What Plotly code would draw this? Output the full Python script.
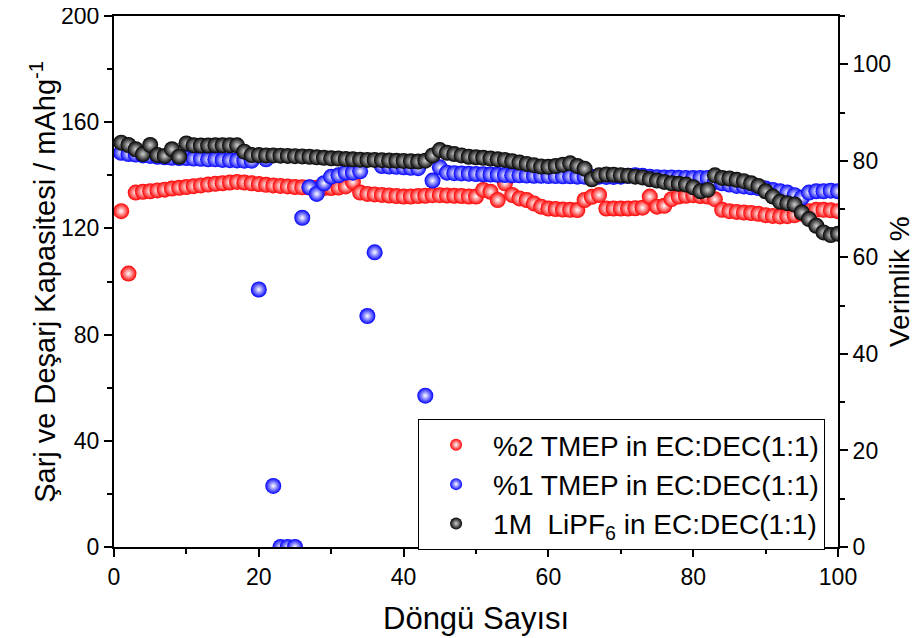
import plotly.graph_objects as go

cycles = list(range(1, 101))

tmep2 = [126.5, 103.0, 133.5, 133.8, 134.0, 134.3, 134.6, 135.0, 135.3, 135.6,
         135.9, 136.2, 136.5, 136.8, 137.0, 137.3, 137.5, 137.3, 137.0, 136.7,
         136.4, 136.2, 136.0, 135.8, 135.6, 135.5, 135.4, 135.3, 135.2, 135.2,
         135.4, 135.8, 137.5, 133.5, 133.0, 132.8, 132.6, 132.4, 132.2, 132.0,
         132.0, 132.2, 132.3, 132.5, 132.5, 132.4, 132.3, 132.2, 132.0, 132.0,
         134.5, 133.8, 130.7, 137.0, 132.6, 131.3, 130.7, 129.4, 128.2, 127.5,
         127.3, 127.1, 127.0, 126.9, 130.7, 131.9, 132.6, 127.5, 127.5, 127.5,
         127.5, 127.6, 127.8, 132.0, 128.2, 128.5, 131.0, 132.0, 132.3, 132.5,
         132.2, 132.0, 131.0, 127.0, 126.5, 126.2, 126.0, 125.8, 125.5, 125.0,
         124.7, 124.5, 124.6, 125.0, 125.5, 126.5, 127.0, 127.0, 126.8, 126.5]

tmep1 = [148.5, 148.0, 147.8, 147.5, 147.3, 147.0, 146.8, 146.6, 146.5, 146.5,
         146.3, 146.2, 146.0, 146.0, 145.8, 145.7, 145.6, 145.5, 145.5, 97.0,
         146.0, 23.0, 0.0, 0.0, 0.0, 124.0, 135.5, 133.0, 137.0, 139.5,
         140.0, 141.0, 141.0, 141.5, 87.0, 111.0, 143.5, 143.3, 143.2, 143.0,
         142.8, 142.7, 57.0, 138.0, 143.0, 141.0, 140.8, 140.7, 140.6, 140.5,
         140.4, 140.3, 140.2, 140.1, 140.0, 140.0, 139.9, 139.8, 139.8, 139.7,
         139.7, 139.6, 139.6, 139.5, 139.5, 139.5, 139.5, 139.4, 139.4, 139.5,
         139.8, 140.0, 139.8, 139.5, 139.3, 139.2, 139.2, 139.1, 139.0, 139.0,
         139.0, 139.0, 137.5, 137.0, 136.5, 136.0, 135.8, 135.5, 135.2, 135.0,
         134.5, 134.0, 133.5, 132.5, 131.5, 133.5, 134.0, 134.0, 134.2, 134.0]

lipf6 = [152.3, 151.4, 149.8, 148.0, 151.4, 147.6, 147.3, 149.8, 147.0, 152.0,
         151.3, 151.2, 151.2, 151.3, 151.3, 151.3, 151.3, 148.9, 147.6, 147.6,
         147.5, 147.5, 147.4, 147.3, 147.2, 147.1, 147.0, 146.8, 146.6, 146.4,
         146.3, 146.1, 146.0, 145.9, 145.8, 145.8, 145.7, 145.6, 145.5, 145.4,
         145.3, 145.2, 145.5, 147.5, 149.5, 148.5, 148.0, 147.5, 147.0, 146.8,
         146.6, 146.3, 146.0, 145.8, 145.3, 144.8, 144.3, 143.8, 143.3, 143.2,
         143.5, 144.0, 144.5, 143.5, 142.5, 138.5, 140.0, 140.3, 140.2, 140.0,
         139.8, 139.5, 139.2, 138.5, 138.0, 137.5, 137.0, 136.8, 136.5, 135.5,
         134.0, 134.5, 140.0, 139.0, 138.8, 138.3, 137.8, 137.0, 136.0, 134.0,
         132.0, 130.0, 129.5, 129.0, 126.0, 123.5, 121.0, 118.5, 117.5, 118.0]

names = ["%2 TMEP in EC:DEC(1:1)",
         "%1 TMEP in EC:DEC(1:1)",
         "1M  LiPF<sub>6</sub> in EC:DEC(1:1)"]

left_ticks = [0, 40, 80, 120, 160, 200]
right_ticks = [0, 20, 40, 60, 80, 100]
x_ticks = [0, 20, 40, 60, 80, 100]

x_title = "Döngü Sayısı"
y_title = "Şarj ve Deşarj Kapasitesi / mAhg<sup>-1</sup>"
y2_title = "Verimlik %"

FONT = "Liberation Sans, Arial, sans-serif"

fig = go.Figure()

series = [(tmep2, "#ff0000", "#ffffff"),
          (tmep1, "#0000ff", "#ffffff"),
          (lipf6, "#000000", "#d0d0d0")]

for (vals, col, hi), nm in zip(series, names):
    fig.add_trace(go.Scatter(
        x=cycles, y=vals, mode="markers", name=nm,
        marker=dict(size=16, color=col, line=dict(width=0),
                    gradient=dict(type="radial", color=hi)),
    ))

fig.add_trace(go.Scatter(x=[None], y=[None], yaxis="y2", showlegend=False,
                         hoverinfo="skip", mode="markers"))

tick_font = dict(family=FONT, size=23, color="black")
minor_x = dict(dtick=10, ticks="outside", ticklen=5, tickwidth=1.5, tickcolor="black")

fig.update_layout(
    width=911, height=630,
    margin=dict(l=106, r=81, t=8, b=91),
    paper_bgcolor="white", plot_bgcolor="white",
    font=dict(family=FONT, color="black"),
    xaxis=dict(range=[0, 100], tickvals=x_ticks, showline=True, linecolor="black",
               linewidth=2, mirror=True, ticks="outside", ticklen=8, tickwidth=2,
               tickcolor="black", showgrid=False, zeroline=False, automargin=False,
               ticklabeloverflow="allow",
               minor=minor_x, tickfont=tick_font),
    yaxis=dict(range=[0, 200], tickvals=left_ticks, showline=True, linecolor="black",
               linewidth=2, ticks="outside", ticklen=8, tickwidth=2, tickcolor="black",
               showgrid=False, zeroline=False, automargin=False,
               ticklabeloverflow="allow",
               minor=dict(dtick=20, ticks="outside", ticklen=5, tickwidth=1.5, tickcolor="black"),
               tickfont=tick_font),
    yaxis2=dict(range=[0, 110], tickvals=right_ticks, overlaying="y", side="right",
                showline=True, linecolor="black", linewidth=2, ticks="outside",
                ticklen=8, tickwidth=2, tickcolor="black", showgrid=False,
                zeroline=False, automargin=False, ticklabeloverflow="allow",
                minor=dict(dtick=10, ticks="outside", ticklen=5, tickwidth=1.5, tickcolor="black"),
                tickfont=tick_font),
    legend=dict(x=0.42, y=0.241, xanchor="left", yanchor="top",
                bordercolor="black", borderwidth=1, bgcolor="white",
                font=dict(family=FONT, size=28, color="black"),
                itemsizing="constant", itemwidth=64),
    showlegend=True,
    annotations=[
        dict(text=x_title, xref="paper", yref="paper", x=0.5, y=-0.134,
             xanchor="center", yanchor="middle", showarrow=False,
             font=dict(family=FONT, size=31, color="black")),
        dict(text=y_title, xref="paper", yref="paper", x=-0.099, y=0.5,
             xanchor="center", yanchor="middle", showarrow=False, textangle=-90,
             font=dict(family=FONT, size=29, color="black")),
        dict(text=y2_title, xref="paper", yref="paper", x=1.085, y=0.5,
             xanchor="center", yanchor="middle", showarrow=False, textangle=-90,
             font=dict(family=FONT, size=28, color="black")),
    ],
)

fig.write_html("out.html")
